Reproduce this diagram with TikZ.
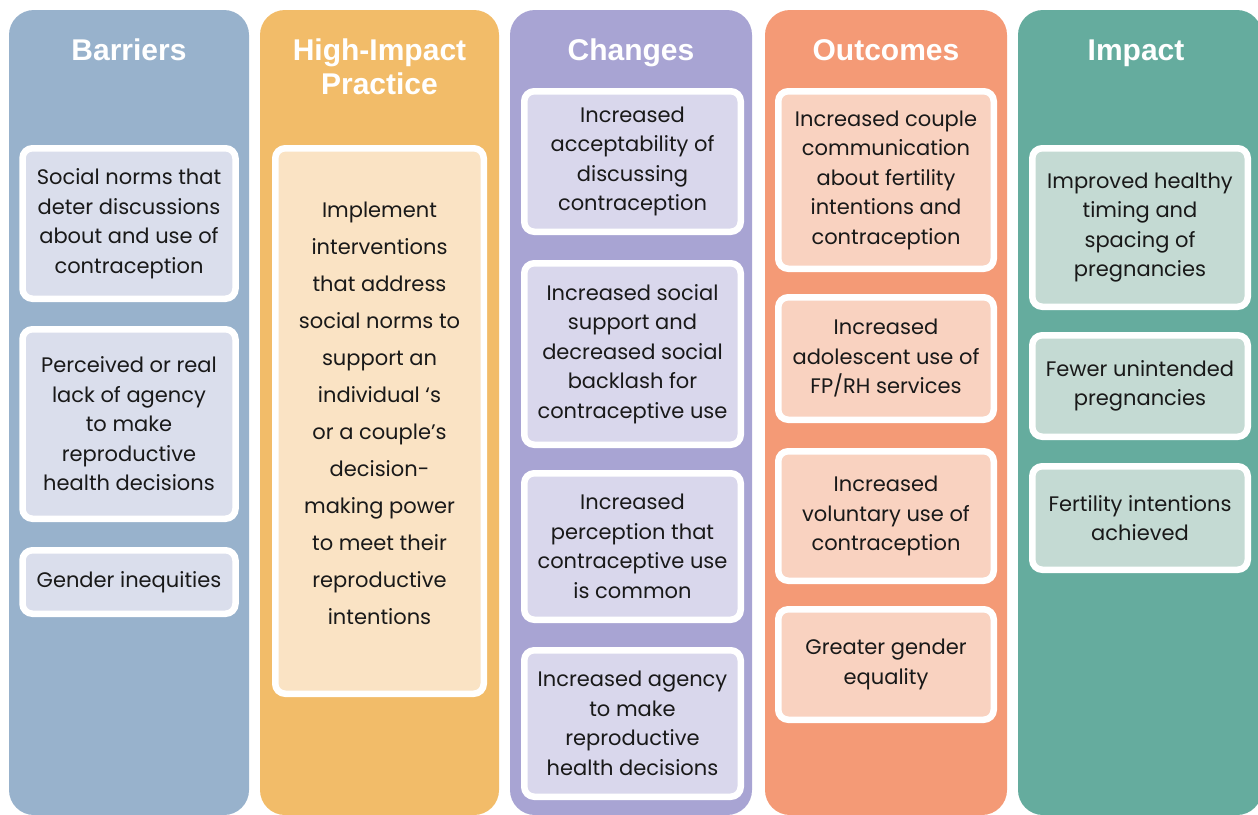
\documentclass[tikz,border=0pt]{standalone}
\usepackage{fontspec}
\setmainfont{Poppins}
\newfontfamily\headfont{Liberation Sans}

\definecolor{barrierdark}{HTML}{98B2CC}
\definecolor{barrierpale}{HTML}{DADEEC}
\definecolor{practicedark}{HTML}{F2BC69}
\definecolor{practicepale}{HTML}{FAE3C4}
\definecolor{changedark}{HTML}{A8A4D3}
\definecolor{changepale}{HTML}{D9D7EC}
\definecolor{outcomedark}{HTML}{F49A76}
\definecolor{outcomepale}{HTML}{F9D2C0}
\definecolor{impactdark}{HTML}{65AC9E}
\definecolor{impactpale}{HTML}{C4DAD3}

\tikzset{
  column/.style={rounded corners=25pt},
  heading/.style={font=\headfont\bfseries\fontsize{30}{34}\selectfont, text=white, align=center,
    text depth=0pt},
  card/.style={draw=white, line width=6.5pt, rounded corners=10pt, align=center, inner sep=0pt,
    text=black!90, font=\fontsize{21}{29.5}\selectfont}
}

\begin{document}
\begin{tikzpicture}[x=1pt, y=-1pt]
  \useasboundingbox (0,0) rectangle (1258,814);
  \clip (0,0) rectangle (1258,814);
  \fill[white] (0,0) rectangle (1258,814);

  % Column backgrounds
  \fill[barrierdark, column] (9,10) rectangle (249,815);
  \fill[practicedark, column] (260,10) rectangle (499,815);
  \fill[changedark, column] (510,10) rectangle (752,815);
  \fill[outcomedark, column] (765,10) rectangle (1007,815);
  \fill[impactdark, column] (1018,10) rectangle (1262,815);

  % Headings
  \node[heading] (hbar) at (129,50) {Barriers};
  \node[heading] (hprac) at (379.5,67) {High-Impact\\Practice};
  \node[heading] (hchg) at (631,50) {Changes};
  \node[heading] (hout) at (886,50) {Outcomes};
  \node[heading] (himp) at (1136,50) {Impact};

  % Barriers
  \node[card, fill=barrierpale, minimum width=213pt, minimum height=150.5pt] (bar1) at (129,223.5)
    {Social norms that\\deter discussions\\about and use of\\contraception};
  \node[card, fill=barrierpale, minimum width=213pt, minimum height=189.5pt] (bar2) at (129,424)
    {Perceived or real\\lack of agency\\to make\\reproductive\\health decisions};
  \node[card, fill=barrierpale, minimum width=213pt, minimum height=63.5pt] (bar3) at (129,582)
    {Gender inequities};

  % High-impact practice
  \node[card, fill=practicepale, minimum width=208.5pt, minimum height=545.5pt,
    font=\fontsize{21}{37}\selectfont, text depth=15pt] (prac) at (379.5,421)
    {Implement\\interventions\\that address\\social norms to\\support an\\individual ‘s\\or a couple’s\\decision-\\making power\\to meet their\\reproductive\\intentions};

  % Changes
  \node[card, fill=changepale, minimum width=216.5pt, minimum height=140.5pt] (chg1) at (632.5,161.5)
    {Increased\\acceptability of\\discussing\\contraception};
  \node[card, fill=changepale, minimum width=216.5pt, minimum height=181.5pt] (chg2) at (632.5,354)
    {Increased social\\support and\\decreased social\\backlash for\\contraceptive use};
  \node[card, fill=changepale, minimum width=216.5pt, minimum height=146.5pt] (chg3) at (632.5,546.5)
    {Increased\\perception that\\contraceptive use\\is common};
  \node[card, fill=changepale, minimum width=216.5pt, minimum height=146.5pt] (chg4) at (632.5,723.5)
    {Increased agency\\to make\\reproductive\\health decisions};

  % Outcomes
  \node[card, fill=outcomepale, minimum width=215.5pt, minimum height=177.5pt] (out1) at (886,180)
    {Increased couple\\communication\\about fertility\\intentions and\\contraception};
  \node[card, fill=outcomepale, minimum width=215.5pt, minimum height=122.5pt] (out2) at (886,358.5)
    {Increased\\adolescent use of\\FP/RH services};
  \node[card, fill=outcomepale, minimum width=215.5pt, minimum height=129.5pt] (out3) at (886,516)
    {Increased\\voluntary use of\\contraception};
  \node[card, fill=outcomepale, minimum width=215.5pt, minimum height=110.5pt] (out4) at (886,664.5)
    {Greater gender\\equality};

  % Impact
  \node[card, fill=impactpale, minimum width=215.5pt, minimum height=158.5pt] (imp1) at (1140,227.5)
    {Improved healthy\\timing and\\spacing of\\pregnancies};
  \node[card, fill=impactpale, minimum width=215.5pt, minimum height=101.5pt] (imp2) at (1140,386)
    {Fewer unintended\\pregnancies};
  \node[card, fill=impactpale, minimum width=215.5pt, minimum height=103.5pt] (imp3) at (1140,518)
    {Fertility intentions\\achieved};
\end{tikzpicture}
\end{document}
